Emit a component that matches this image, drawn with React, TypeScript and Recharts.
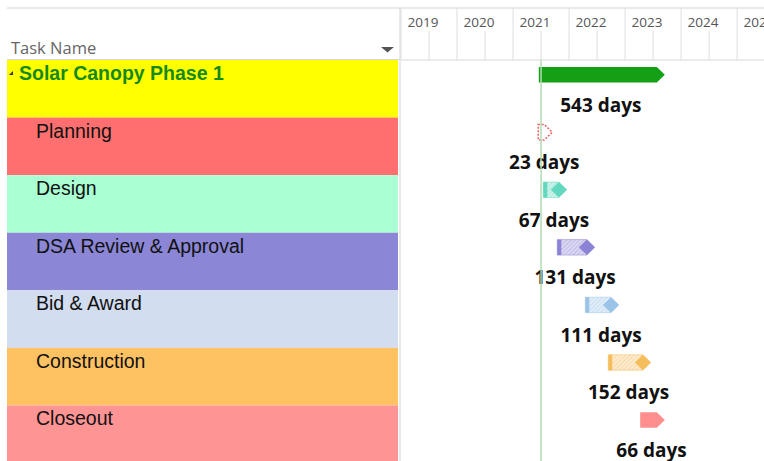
import { ComposedChart, Bar, XAxis, YAxis, ReferenceLine } from 'recharts'

const tasks = ['Solar Canopy Phase 1', 'Planning', 'Design', 'DSA Review & Approval', 'Bid & Award', 'Construction', 'Closeout']
const starts = [2021.46, 2021.45, 2021.54, 2021.79, 2022.29, 2022.70, 2023.27]
const ends = [2023.71, 2021.70, 2021.96, 2022.46, 2022.89, 2023.46, 2023.71]
const durations = [543, 23, 67, 131, 111, 152, 66]
const years = [2019, 2020, 2021, 2022, 2023, 2024, 2025]
const todayMark = 2021.5

// look of each row, kept apart from the data
const ROW_FILL: Record<string, string> = {
  'Solar Canopy Phase 1': '#ffff00',
  'Planning': '#ff6f6f',
  'Design': '#aaffd3',
  'DSA Review & Approval': '#8b87d6',
  'Bid & Award': '#d2ddf0',
  'Construction': '#ffc263',
  'Closeout': '#ff9494',
}
const BAR_STYLE: Record<string, { kind: 'solid' | 'dashed' | 'progress'; color: string }> = {
  'Solar Canopy Phase 1': { kind: 'solid', color: '#14a014' },
  'Planning': { kind: 'dashed', color: '#e96a6a' },
  'Design': { kind: 'progress', color: '#62d9be' },
  'DSA Review & Approval': { kind: 'progress', color: '#8a83d6' },
  'Bid & Award': { kind: 'progress', color: '#9bc3e8' },
  'Construction': { kind: 'progress', color: '#f6bd5c' },
  'Closeout': { kind: 'solid', color: '#ff8f8f' },
}

const rows = tasks.map((name, i) => ({ name, span: [starts[i], ends[i]], days: durations[i] }))
const axisTicks = years.flatMap(y => [y, y + 0.5]).filter(t => t <= 2025.48)

const ROW_H = 403 / 7
const UI_FONT = '"Open Sans", "Noto Sans", sans-serif'
const ROW_FONT = '"Liberation Sans", Arial, sans-serif'

function YearTick({ x, payload }: any) {
  const v = payload.value as number
  if (v % 1 !== 0) {
    return <line x1={x} y1={31} x2={x} y2={60} stroke="#dedede" />
  }
  return (
    <g>
      <line x1={x} y1={8} x2={x} y2={60} stroke="#dedede" />
      <text x={x + 6.5} y={27} fontSize={13.5} fill="#555" fontFamily={UI_FONT}>{v}</text>
    </g>
  )
}

function RowTick({ y, payload }: any) {
  const name = payload.value as string
  const top = y - ROW_H / 2
  const summary = name === tasks[0]
  return (
    <g>
      <rect x={7} y={top} width={391} height={ROW_H} fill={ROW_FILL[name]} />
      {summary && <path d={`M9,${top + 15} L13,${top + 11} L13,${top + 15} Z`} fill="#333" />}
      <text
        x={summary ? 19 : 36}
        y={top + 20}
        fontSize={19.5}
        fontWeight={summary ? 'bold' : 'normal'}
        fill={summary ? '#168a18' : '#111'}
        fontFamily={ROW_FONT}
      >
        {name}
      </text>
    </g>
  )
}

function TaskShape(props: any) {
  const { x, y, width, height, payload, index } = props
  const st = BAR_STYLE[payload.name]
  const cy = y + height / 2
  const by = cy - 21.6
  const bh = 15.5
  const tip = 8
  const end = x + width
  const outline = `M${x},${by} H${end - tip} L${end},${by + bh / 2} L${end - tip},${by + bh} H${x} Z`
  const pid = `hatch-${index}`
  return (
    <g>
      {st.kind === 'solid' && <path d={outline} fill={st.color} />}
      {st.kind === 'dashed' && (
        <path d={outline} fill="#fff" stroke={st.color} strokeWidth={1.6} strokeDasharray="2 1.5" />
      )}
      {st.kind === 'progress' && (
        <g>
          <defs>
            <pattern id={pid} patternUnits="userSpaceOnUse" width={3} height={3} patternTransform="rotate(45)">
              <rect width={3} height={3} fill={st.color} fillOpacity={0.3} />
              <line x1={0} y1={0} x2={0} y2={3} stroke={st.color} strokeOpacity={0.7} strokeWidth={1} />
            </pattern>
          </defs>
          <path d={outline} fill={`url(#${pid})`} stroke={st.color} strokeOpacity={0.5} />
          <rect x={x} y={by} width={4} height={bh} fill={st.color} />
          <path
            d={`M${end - 2 * tip},${by + bh / 2} L${end - tip},${by} L${end},${by + bh / 2} L${end - tip},${by + bh} Z`}
            fill={st.color}
          />
        </g>
      )}
      <text
        x={x + width / 2 - 1}
        y={cy + 23}
        textAnchor="middle"
        fontSize={19}
        fontWeight="bold"
        fill="#111"
        fontFamily={UI_FONT}
      >
        {payload.days} days
      </text>
    </g>
  )
}

export default function App() {
  return (
    <div style={{ position: 'absolute', left: 0, top: 0, width: 764, height: 461, overflow: 'hidden', background: '#fff' }}>
      <ComposedChart
        width={764}
        height={463}
        data={rows}
        layout="vertical"
        margin={{ top: 8, right: 0, bottom: 0, left: 0 }}
      >
        <XAxis
          type="number"
          orientation="top"
          height={52}
          domain={[2019, 2025.48]}
          allowDataOverflow
          ticks={axisTicks}
          interval={0}
          tick={<YearTick />}
          tickLine={false}
          axisLine={{ stroke: '#d8d8d8' }}
        />
        <YAxis
          type="category"
          dataKey="name"
          width={401}
          interval={0}
          tick={<RowTick />}
          tickLine={false}
          axisLine={false}
        />
        <ReferenceLine x={todayMark} stroke="#b3dbb3" strokeWidth={1.5} />
        <Bar dataKey="span" barSize={15} shape={<TaskShape />} isAnimationActive={false} />
        <line x1={7} y1={8} x2={764} y2={8} stroke="#d4d4d4" />
        <line x1={7} y1={59.5} x2={400} y2={59.5} stroke="#d8d8d8" />
        <line x1={400} y1={8} x2={400} y2={463} stroke="#d4d4d4" />
        <text x={11} y={54} fontSize={16.5} fill="#666" fontFamily={UI_FONT}>Task Name</text>
        <path d="M381,47 L394,47 L387.5,52.5 Z" fill="#555" />
      </ComposedChart>
    </div>
  )
}
